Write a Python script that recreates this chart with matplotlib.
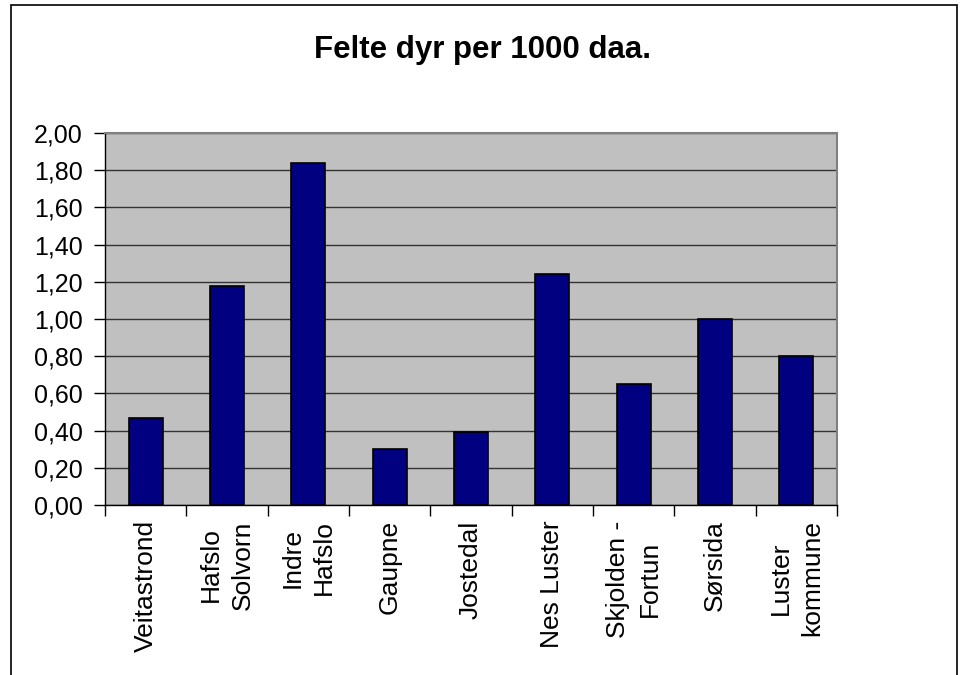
import matplotlib.pyplot as plt
from matplotlib.patches import Rectangle
from matplotlib.ticker import FuncFormatter
import numpy as np

# Data
omraade = ["Veitastrond", "Hafslo\nSolvorn", "Indre\nHafslo", "Gaupne", "Jostedal",
           "Nes Luster", "Skjolden -\nFortun", "Sørsida", "Luster\nkommune"]
felte_per_1000 = [0.47, 1.18, 1.84, 0.30, 0.39, 1.24, 0.65, 1.00, 0.80]
y_ticks = [0.0, 0.2, 0.4, 0.6, 0.8, 1.0, 1.2, 1.4, 1.6, 1.8, 2.0]

plt.rcParams['font.family'] = ['Liberation Sans', 'DejaVu Sans']

fig = plt.figure(figsize=(9.61, 6.75), dpi=100)
ax = fig.add_axes([105 / 961, 1 - 505 / 675, (837 - 105) / 961, (505 - 133) / 675])

x = np.arange(len(omraade))
ax.set_facecolor('#c0c0c0')
ax.bar(x, felte_per_1000, width=0.42, color='#000080', edgecolor='black', linewidth=1.2, zorder=3)

# y axis
ax.set_ylim(0, 2.0)
ax.set_yticks(y_ticks)
ax.yaxis.set_major_formatter(FuncFormatter(lambda v, p: f"{v:.2f}".replace('.', ',')))
ax.grid(axis='y', color='#333333', linewidth=1.0, zorder=1)
ax.set_axisbelow(True)

# x axis: ticks at category boundaries, labels centred under bars
ax.set_xlim(-0.5, len(omraade) - 0.5)
ax.set_xticks(np.arange(-0.5, len(omraade)), minor=False)
ax.set_xticklabels([])
ax.set_xticks(x, minor=True)
ax.set_xticklabels(omraade, minor=True, rotation=90, ha='center', va='top',
                   multialignment='center', fontsize=19, linespacing=1.4)
ax.tick_params(axis='x', which='minor', length=0, pad=11)
ax.tick_params(axis='x', which='major', direction='out', length=8, width=1, color='black')
ax.tick_params(axis='y', direction='out', length=8, width=1, color='black', labelsize=18, pad=8)

for side in ['top', 'right']:
    ax.spines[side].set_color('#808080')
    ax.spines[side].set_linewidth(1.5)
for side in ['left', 'bottom']:
    ax.spines[side].set_color('black')
    ax.spines[side].set_linewidth(1.0)

fig.text(482 / 961, 1 - 50 / 675, "Felte dyr per 1000 daa.", ha='center', va='center',
         fontsize=22.5, fontweight='bold')

# outer chart border (runs off the bottom edge)
border = Rectangle((11 / 961, -0.05), (957 - 11) / 961, 1.05 - 5 / 675,
                   transform=fig.transFigure, fill=False, edgecolor='black',
                   linewidth=1.2, clip_on=False)
fig.patches.append(border)

fig.savefig("out.png", dpi=100)
